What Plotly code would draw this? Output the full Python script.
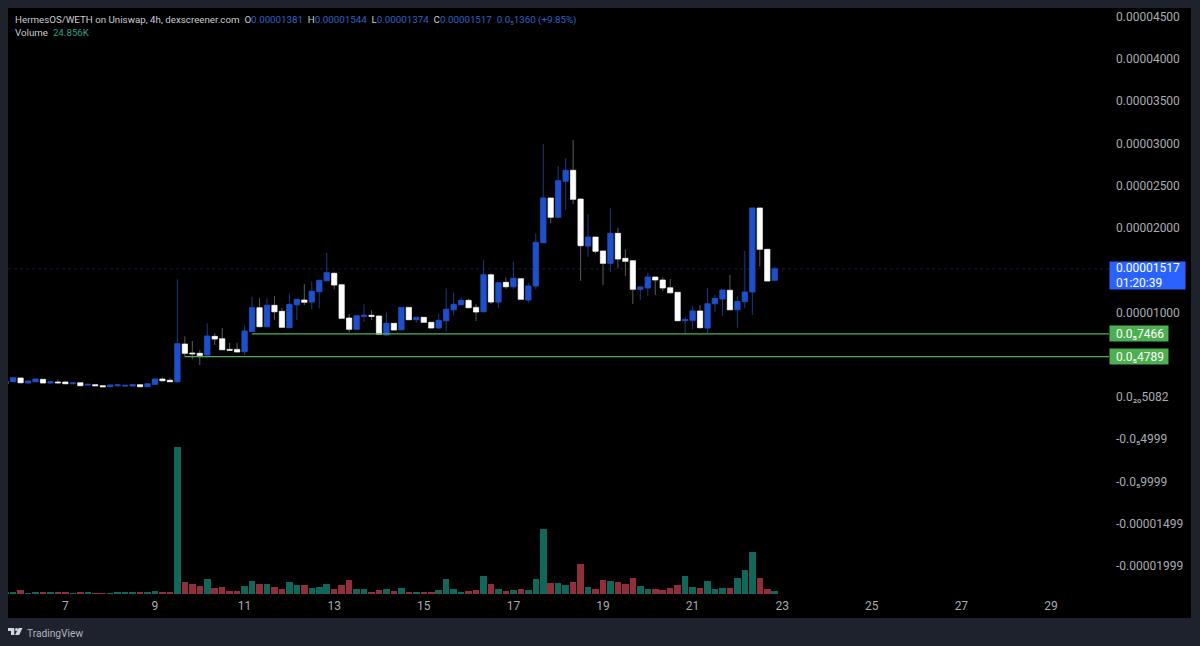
import numpy as np
import plotly.graph_objects as go

# ---- data: one row per 4h bar, prices in millionths (1e-6 WETH) ----
FIRST_BAR_DAY = 5 + 16 / 24
BARS_PER_DAY = 6

opens = [1.57, 1.81, 2.25, 1.66, 1.81, 2.09, 1.66, 1.78, 1.78, 1.57, 1.69, 1.42, 1.46, 1.34, 1.22, 1.34, 1.30, 1.30, 1.46, 1.22, 1.50, 2.13, 1.98,
         1.81, 6.27, 5.21, 5.17, 4.97, 7.18, 6.90, 5.64, 5.64, 5.36, 7.77, 10.57, 8.32, 10.85, 10.14, 8.20,
         10.92, 11.48, 11.24, 12.46, 13.76, 14.64, 13.29, 9.35, 8.01, 9.55, 9.67, 9.59, 7.34, 8.72, 7.96, 10.61,
         9.15, 9.43, 8.84, 8.17, 9.03, 10.33, 10.92, 11.44, 10.61, 10.09, 14.47, 11.24, 13.57, 13.05,
         14.00, 11.48, 13.14, 18.26, 23.55, 21.27, 25.53, 26.83, 23.43, 17.87, 18.93, 17.28, 15.82, 19.37, 16.41, 16.13,
         12.75, 12.90, 14.20, 13.85, 12.93, 12.39, 9.03, 9.08, 10.18, 8.17, 11.04, 11.60, 12.63, 10.33, 11.28, 12.43, 22.37, 17.48, 13.81]
closes = [1.89, 2.28, 1.69, 1.89, 2.13, 1.66, 1.81, 1.69, 1.57, 1.66, 1.34, 1.50, 1.34, 1.22, 1.42, 1.42, 1.38, 1.46, 1.22, 1.57, 2.13, 1.93, 1.81,
          6.31, 5.17, 5.12, 4.93, 7.22, 6.86, 5.60, 5.53, 5.33, 7.81, 10.57, 8.32, 10.85, 10.09, 8.25, 10.97,
          11.56, 11.21, 12.51, 13.81, 14.71, 13.25, 9.31, 8.01, 9.62, 9.67, 9.55, 7.42, 8.72, 7.93, 10.61, 9.15,
          9.43, 8.84, 8.17, 9.08, 10.38, 10.97, 11.44, 10.57, 10.06, 14.47, 11.24, 13.53, 13.05, 14.05,
          11.56, 13.14, 18.31, 23.55, 21.27, 25.60, 26.83, 23.40, 17.91, 18.93, 17.24, 15.82, 19.37, 16.33, 16.06, 12.75,
          13.02, 14.20, 13.85, 12.90, 12.34, 9.03, 9.19, 10.18, 8.20, 11.04, 11.68, 12.66, 10.33, 11.32, 12.43, 22.37, 17.48, 13.73, 15.17]
highs = [1.89, 2.28, 2.25, 1.89, 2.13, 2.09, 1.81, 2.09, 1.78, 1.66, 1.69, 1.50, 1.46, 1.34, 1.42, 1.54, 1.38, 1.46, 1.46, 1.57, 2.13, 2.33, 2.28,
         13.93, 7.18, 6.63, 5.56, 8.72, 7.54, 8.17, 6.43, 6.43, 8.44, 11.87, 11.68, 11.68, 11.95, 10.57, 12.27,
         11.56, 13.37, 13.69, 13.81, 17.08, 14.83, 13.29, 9.82, 9.62, 10.97, 10.26, 9.59, 9.98, 8.72, 10.61, 10.61,
         9.43, 9.43, 8.84, 9.82, 12.86, 12.34, 11.80, 11.63, 10.97, 16.21, 14.64, 13.53, 14.16, 16.01,
         14.00, 13.53, 19.37, 29.94, 23.55, 27.34, 28.25, 30.41, 23.43, 21.62, 18.93, 17.28, 22.33, 20.03, 17.48, 16.13,
         13.02, 14.71, 14.20, 14.16, 13.96, 12.39, 9.50, 10.80, 10.89, 12.93, 12.07, 12.66, 14.44, 11.87, 17.31, 22.37, 22.37, 17.48, 15.44]
lows = [1.57, 1.81, 1.69, 1.66, 1.81, 1.66, 1.66, 1.57, 1.57, 1.57, 1.34, 1.42, 1.34, 1.22, 1.22, 1.27, 1.30, 1.30, 1.22, 1.22, 1.50, 1.86, 1.81,
        1.81, 4.70, 4.46, 3.79, 4.97, 6.15, 5.56, 5.44, 5.33, 4.97, 7.73, 8.32, 8.32, 9.11, 8.25, 8.20,
        9.11, 10.89, 10.38, 10.50, 13.76, 12.75, 9.31, 7.66, 8.01, 8.91, 9.11, 7.42, 7.34, 7.93, 7.96, 9.15,
        8.79, 8.84, 8.17, 8.17, 7.73, 9.67, 10.92, 10.57, 8.99, 10.09, 11.00, 10.57, 12.75, 12.75,
        11.56, 11.16, 12.75, 18.26, 20.56, 21.27, 22.13, 22.84, 13.76, 16.60, 17.00, 13.25, 14.76, 15.23, 14.35, 11.00,
        11.48, 11.99, 12.07, 12.54, 12.19, 9.03, 7.46, 8.01, 8.13, 7.61, 10.09, 9.59, 10.33, 8.20, 10.50, 9.70, 15.42, 13.73, 13.74]
volume_k = [14, 16, 37, 9, 16, 12, 12, 16, 12, 6, 21, 12, 6, 5, 5, 16, 12, 16, 12, 16, 30, 16, 16,
            1350, 113, 92, 74, 141, 52, 62, 30, 28, 76, 122, 95, 89, 67, 43, 110,
            80, 80, 58, 67, 92, 46, 80, 126, 49, 46, 21, 40, 46, 28, 52, 18,
            12, 12, 12, 40, 135, 49, 16, 25, 37, 166, 92, 49, 28, 40,
            43, 40, 141, 595, 104, 101, 83, 110, 276, 64, 43, 126, 122, 110, 92, 144,
            71, 43, 49, 34, 52, 83, 168, 67, 55, 120, 49, 58, 58, 150, 218, 386, 144, 43, 24.856]

price_ticks = [45, 40, 35, 30, 25, 20, 10, 0, -5, -10, -15, -20]
price_tick_labels = ["0.00004500", "0.00004000", "0.00003500", "0.00003000", "0.00002500", "0.00002000",
                     "0.00001000", "0.0₂₀5082", "-0.0₅4999", "-0.0₅9999", "-0.00001499", "-0.00001999"]
day_ticks = [7, 9, 11, 13, 15, 17, 19, 21, 23, 25, 27, 29]
last_price = 15.17
support_levels = [7.466, 4.789]
support_labels = ["0.0₅7466", "0.0₅4789"]
support_start_days = [11 + 1 / 6, 9 + 4 / 6]

# ---- style ----
FONT = "Roboto"
BLUE, WHITE = "#1f50cc", "#ffffff"
BLUE_WICK, WHITE_WICK = "#1d3a80", "#5c5c5c"
VOL_UP, VOL_DOWN = "#12665a", "#8f2f3c"
GREEN = "#4caf50"
PANEL_BG, PAGE_BG = "#000000", "#1e222d"
W, H = 1200, 646
L, R, T, B = 8, 1109, 8, 594   # plot box in pixels
X_RANGE = [5.719, 30.295]
Y_RANGE = [-23.31e-6, 46.04e-6]
VOL_RANGE = [0, 5391]


def px(x):
    return (x - L) / (R - L)


def py(y):
    return (B - y) / (B - T)


def e6(seq):
    return [v * 1e-6 for v in seq]


days = [FIRST_BAR_DAY + i / BARS_PER_DAY for i in range(len(closes))]
body_high = [max(o, c) for o, c in zip(opens, closes)]
body_low = [min(o, c) for o, c in zip(opens, closes)]

fig = go.Figure()
# wicks
fig.add_trace(go.Candlestick(
    x=days, open=e6(opens), high=e6(highs), low=e6(lows), close=e6(closes),
    increasing=dict(line=dict(color=BLUE_WICK, width=1), fillcolor=BLUE_WICK),
    decreasing=dict(line=dict(color=WHITE_WICK, width=1), fillcolor=WHITE_WICK),
    whiskerwidth=0, hoverinfo="skip", showlegend=False))
# bodies
fig.add_trace(go.Candlestick(
    x=days, open=e6(opens), high=e6(body_high), low=e6(body_low), close=e6(closes),
    increasing=dict(line=dict(color=BLUE, width=0.5), fillcolor=BLUE),
    decreasing=dict(line=dict(color=WHITE, width=0.5), fillcolor=WHITE),
    whiskerwidth=0, hoverinfo="skip", showlegend=False))
# volume
fig.add_trace(go.Bar(
    x=days, y=volume_k, yaxis="y2", width=0.88 / BARS_PER_DAY,
    marker=dict(color=[VOL_UP if c >= o else VOL_DOWN for o, c in zip(opens, closes)], line_width=0),
    hoverinfo="skip", showlegend=False))
# support lines
for lvl, d0 in zip(support_levels, support_start_days):
    fig.add_trace(go.Scatter(x=[d0, X_RANGE[1]], y=e6([lvl, lvl]), mode="lines",
                             line=dict(color=GREEN, width=1.3), hoverinfo="skip", showlegend=False))

shapes = [
    dict(type="rect", xref="paper", yref="paper", x0=px(8), x1=px(1191), y0=py(618), y1=py(8),
         fillcolor=PANEL_BG, line_width=0, layer="below"),
    dict(type="line", xref="paper", yref="y", x0=0, x1=1, y0=last_price * 1e-6, y1=last_price * 1e-6,
         line=dict(color="#181c42", width=1, dash="dot"), layer="below"),
]


def logo_path(points):
    return "M " + " L ".join(f"{px(x):.5f},{py(y):.5f}" for x, y in points) + " Z"


LOGO = "#d1d4dc"
shapes += [
    dict(type="path", xref="paper", yref="paper", path=logo_path(
        [(8, 628), (14.3, 628), (14.3, 635), (11, 635), (11, 631), (8, 631)]), fillcolor=LOGO, line_width=0),
    dict(type="circle", xref="paper", yref="paper", x0=px(15), x1=px(18), y0=py(631), y1=py(628),
         fillcolor=LOGO, line_width=0),
    dict(type="path", xref="paper", yref="paper", path=logo_path(
        [(18.6, 628), (22.5, 628), (19.2, 635), (15, 635)]), fillcolor=LOGO, line_width=0),
]


def span(text, color):
    return f'<span style="color:{color}">{text}</span>'


TXT, VAL, GRN = "#c9ccd4", "#2f63c8", "#2f9e84"
header = (span("HermesOS/WETH on Uniswap, 4h, dexscreener.com", TXT) + "&nbsp;&nbsp;"
          + span("O", TXT) + span("0.00001381", VAL) + "&nbsp;&nbsp;"
          + span("H", TXT) + span("0.00001544", VAL) + "&nbsp;&nbsp;"
          + span("L", TXT) + span("0.00001374", VAL) + "&nbsp;&nbsp;"
          + span("C", TXT) + span("0.00001517", VAL) + "&nbsp;&nbsp;"
          + span("0.0₅1360 (+9.85%)", VAL))
vol_line = span("Volume", TXT) + "&nbsp;&nbsp;" + span("24.856K", GRN)

annotations = [
    dict(xref="paper", yref="paper", x=px(13), y=py(20), xanchor="left", yanchor="middle",
         text=header, showarrow=False, font=dict(family=FONT, size=9.75)),
    dict(xref="paper", yref="paper", x=px(13), y=py(33), xanchor="left", yanchor="middle",
         text=vol_line, showarrow=False, font=dict(family=FONT, size=9.75)),
    dict(xref="paper", yref="paper", x=px(25), y=py(633), xanchor="left", yanchor="middle",
         text="TradingView", showarrow=False, font=dict(family=FONT, size=10.2, color="#b2b5be")),
    dict(xref="paper", yref="y", x=1, y=last_price * 1e-6, xanchor="left", yanchor="middle",
         yshift=-6.5, text="&nbsp;&nbsp;0.00001517<br>&nbsp;&nbsp;01:20:39", showarrow=False, align="left",
         width=75, height=27, bgcolor="#2962ff", font=dict(family=FONT, size=12, color="#ffffff"), borderpad=0),
]
for lvl, lab in zip(support_levels, support_labels):
    annotations.append(dict(xref="paper", yref="y", x=1, y=lvl * 1e-6, xanchor="left", yanchor="middle",
                            text="&nbsp;&nbsp;" + lab, showarrow=False, width=58, height=15, align="left",
                            bgcolor=GREEN, font=dict(family=FONT, size=12, color="#ffffff"), borderpad=0))

fig.update_layout(
    width=W, height=H, autosize=False,
    margin=dict(l=L, r=W - R, t=T, b=H - B, pad=0),
    paper_bgcolor=PAGE_BG, plot_bgcolor="rgba(0,0,0,0)",
    boxgap=0.3, boxgroupgap=0, showlegend=False, bargap=0,
    xaxis=dict(range=X_RANGE, tickmode="array", tickvals=day_ticks, ticktext=[str(d) for d in day_ticks],
               showgrid=False, zeroline=False, showline=False, ticks="", rangeslider=dict(visible=False),
               tickfont=dict(family=FONT, size=12, color="#a8abb3"), ticklabelstandoff=3),
    yaxis=dict(range=Y_RANGE, side="right", tickmode="array", tickvals=e6(price_ticks),
               ticktext=price_tick_labels, showgrid=False, zeroline=False, showline=False, ticks="",
               tickfont=dict(family=FONT, size=12, color="#a8abb3"), ticklabelstandoff=6),
    yaxis2=dict(range=VOL_RANGE, overlaying="y", side="left", visible=False),
    shapes=shapes, annotations=annotations,
    font=dict(family=FONT),
)
fig.write_html("out.html", config=dict(displayModeBar=False),
               post_script="document.body.style.margin='0';document.body.style.background='#1e222d';")
